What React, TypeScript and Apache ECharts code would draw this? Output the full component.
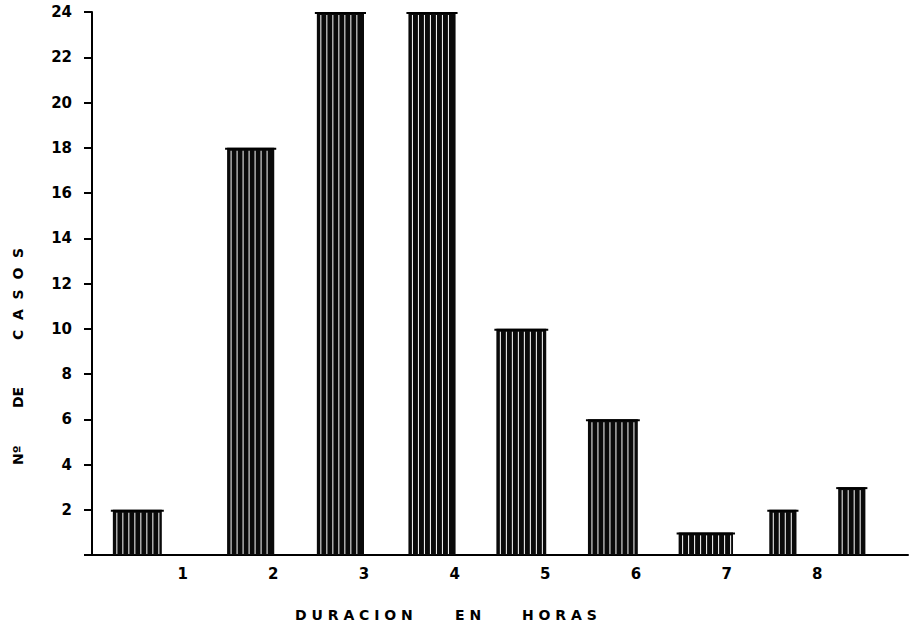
import React, { useEffect, useRef } from "react";
import * as echarts from "echarts";

// Histogram bins (hours) and counts
const binStart = [0.23, 1.49, 2.48, 3.49, 4.46, 5.47, 6.47, 7.47, 8.23];
const binEnd = [0.77, 2.01, 3.0, 4.01, 5.01, 6.02, 7.07, 7.77, 8.53];
const counts = [2, 18, 24, 24, 10, 6, 1, 2, 3];
const xTickLabels = ["1", "2", "3", "4", "5", "6", "7", "8"];
const yTickLabels = ["2", "4", "6", "8", "10", "12", "14", "16", "18", "20", "22", "24"];
const xTitleWords = ["D U R A C I O N", "E N", "H O R A S"];
const yTitleWords = ["Nº", "DE", "C  A  S  O  S"];

export default function App() {
  const ref = useRef<HTMLDivElement>(null);
  useEffect(() => {
    document.body.style.margin = "0";
    if (!ref.current) return;
    const chart = echarts.init(ref.current, null, { renderer: "svg" });
    const data = counts.map((c, i) => [binStart[i], binEnd[i], c]);
    const titleFont = "bold 14px 'DejaVu Sans'";
    const xTitlePos = [295, 455, 522];
    const yTitlePos = [465, 408, 340];
    chart.setOption({
      animation: false,
      backgroundColor: "#ffffff",
      grid: { left: 92, right: 0, top: 12, bottom: 76 },
      xAxis: {
        type: "value",
        min: 0,
        max: 9,
        interval: 1,
        axisLine: { show: true, onZero: false, lineStyle: { color: "#000", width: 2 } },
        axisTick: { show: false },
        splitLine: { show: false },
        axisLabel: {
          margin: 11,
          color: "#000",
          fontFamily: "DejaVu Sans",
          fontWeight: "bold",
          fontSize: 15,
          formatter: (v: number) => {
            const i = Math.round(v) - 1;
            return i >= 0 && i < xTickLabels.length ? xTickLabels[i] : "";
          },
        },
      },
      yAxis: {
        type: "value",
        min: 0,
        max: 24,
        interval: 2,
        axisLine: { show: true, lineStyle: { color: "#000", width: 2 } },
        axisTick: { show: true, length: 8, lineStyle: { color: "#000", width: 2 } },
        splitLine: { show: false },
        axisLabel: {
          margin: 20,
          color: "#000",
          fontFamily: "DejaVu Sans",
          fontWeight: "bold",
          fontSize: 15,
          formatter: (v: number) => {
            const i = Math.round(v / 2) - 1;
            return i >= 0 && i < yTickLabels.length ? yTickLabels[i] : "";
          },
        },
      },
      graphic: [
        ...xTitleWords.map((w, i) => ({
          type: "text",
          x: xTitlePos[i],
          y: 608,
          style: { text: w, fill: "#000", font: titleFont },
        })),
        ...yTitleWords.map((w, i) => ({
          type: "text",
          x: 11,
          y: yTitlePos[i],
          rotation: Math.PI / 2,
          style: { text: w, fill: "#000", font: titleFont, textVerticalAlign: "top" },
        })),
      ],
      series: [
        {
          type: "custom",
          encode: { x: [0, 1], y: 2 },
          data,
          renderItem: (params: any, api: any) => {
            const x0 = api.value(0);
            const x1 = api.value(1);
            const v = api.value(2);
            const p0 = api.coord([x0, v]);
            const p1 = api.coord([x1, 0]);
            const w = p1[0] - p0[0];
            const h = p1[1] - p0[1];
            const children: any[] = [
              {
                type: "rect",
                shape: { x: p0[0], y: p0[1], width: w, height: h },
                style: { fill: "#0a0a0a" },
              },
            ];
            for (let x = p0[0] + 4; x < p1[0] - 2; x += 6) {
              children.push({
                type: "line",
                shape: { x1: x, y1: p0[1] + 3, x2: x, y2: p1[1] - 1 },
                style: { stroke: "#fff", lineWidth: 1 },
              });
            }
            children.push({
              type: "line",
              shape: { x1: p0[0] - 2, y1: p0[1] + 1, x2: p1[0] + 2, y2: p0[1] + 1 },
              style: { stroke: "#000", lineWidth: 2 },
            });
            return { type: "group", children };
          },
        },
      ],
    });
    return () => chart.dispose();
  }, []);
  return <div ref={ref} style={{ width: 911, height: 631 }} />;
}
